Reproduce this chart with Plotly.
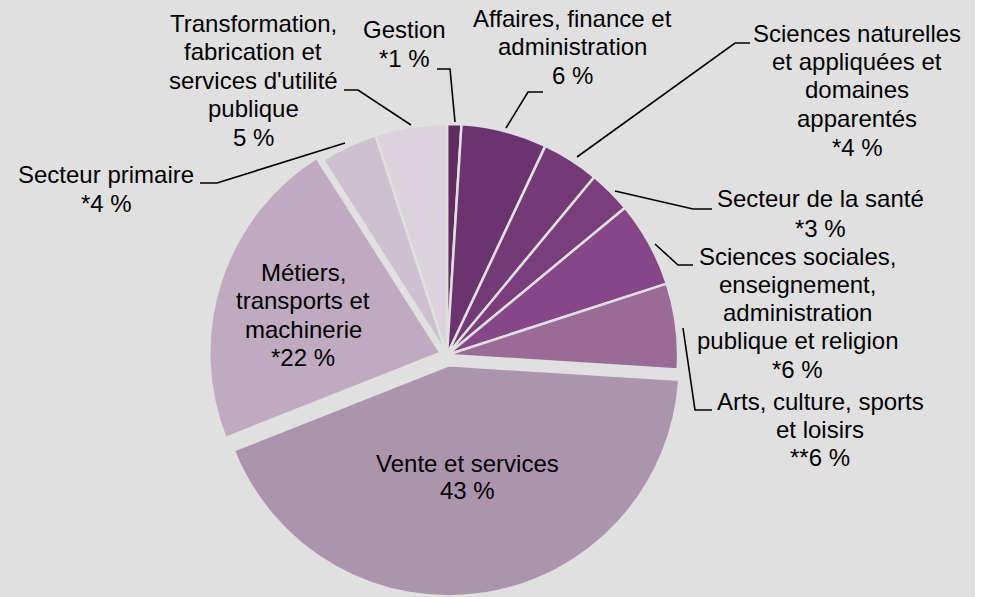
import plotly.graph_objects as go

# ---------------- data ----------------
categories = [
    "Gestion",
    "Affaires, finance et<br>administration",
    "Sciences naturelles<br>et appliquées et<br>domaines<br>apparentés",
    "Secteur de la santé",
    "Sciences sociales,<br>enseignement,<br>administration<br>publique et religion",
    "Arts, culture, sports<br>et loisirs",
    "Vente et services",
    "Métiers,<br>transports et<br>machinerie",
    "Secteur primaire",
    "Transformation,<br>fabrication et<br>services d'utilité<br>publique",
]
values = [1, 6, 4, 3, 6, 6, 43, 22, 4, 5]
quality_flags = ["*", "", "*", "*", "*", "**", "", "*", "*", ""]

# ---------------- styles ----------------
W, H = 975, 597
BG = "#e0e0e0"
SLICE_COLORS = ["#612c60", "#6b3470", "#733a75", "#793e7b", "#874687",
                "#9a6b97", "#ad94ad", "#bfaac0", "#cdc0cf", "#dcd2dc"]
PULLS = [0, 0, 0, 0, 0, 0, 0.045, 0.03, 0, 0]
FONT = "Liberation Sans, Arial, sans-serif"
FONT_SIZE = 24

# label placement (pixels): centre x, first-line y, line spacing
LABEL_POS = [
    (404, 30, 28),
    (572, 18, 28.5),
    (857, 33, 28.5),
    (820, 199, 29),
    (797, 256, 28.3),
    (820, 401, 28),
    (467, 463, 27),
    (303, 272, 28.5),
    (106, 175, 28),
    (253, 23, 28.5),
]
# leader lines (pixels)
LEADERS = [
    [(437, 69), (450, 69), (455, 122)],
    [(543, 92), (528, 92), (506, 128)],
    [(750, 43), (735, 43), (577, 157)],
    [(615, 191), (693, 209), (712, 209)],
    [(655, 244), (678, 265), (693, 265)],
    [(683, 328), (695, 410), (712, 410)],
    None,
    None,
    [(200, 183), (217, 183), (345, 143)],
    [(344, 90), (358, 90), (411, 125)],
]

CX, CY = 447, 355
HALF_BOX = 241.5


def px(x):
    return x / W


def py(y):
    return 1 - y / H


fig = go.Figure(go.Pie(
    labels=[c.replace("<br>", " ") for c in categories],
    values=values,
    sort=False,
    direction="clockwise",
    rotation=0,
    pull=PULLS,
    marker=dict(colors=SLICE_COLORS, line=dict(color=BG, width=2.5)),
    textinfo="none",
    hoverinfo="skip",
    showlegend=False,
    domain=dict(x=[px(CX) - 0.3, px(CX) + 0.3],
                y=[py(CY + HALF_BOX), py(CY + HALF_BOX) + 2 * HALF_BOX / H]),
))

annotations = []
shapes = []
for i, cat in enumerate(categories):
    lines = cat.split("<br>") + [f"{quality_flags[i]}{values[i]} %"]
    x0, y0, dy = LABEL_POS[i]
    for k, line in enumerate(lines):
        annotations.append(dict(
            x=px(x0), y=py(y0 + k * dy), xref="paper", yref="paper",
            text=line, showarrow=False, xanchor="center", yanchor="middle",
            font=dict(family=FONT, size=FONT_SIZE, color="#000000"),
        ))
    if LEADERS[i]:
        pts = LEADERS[i]
        path = "M " + " L ".join(f"{px(a)},{py(b)}" for a, b in pts)
        shapes.append(dict(type="path", xref="paper", yref="paper", path=path,
                           line=dict(color="#000000", width=1.6)))

fig.update_layout(
    width=W, height=H,
    margin=dict(l=0, r=0, t=0, b=0),
    paper_bgcolor=BG, plot_bgcolor=BG,
    annotations=annotations, shapes=shapes,
    font=dict(family=FONT, size=FONT_SIZE, color="#000000"),
)

fig.write_html(
    "out.html",
    include_plotlyjs=True,
    config={"displayModeBar": False},
    post_script="document.body.style.margin='0';document.body.style.overflow='hidden';",
)
